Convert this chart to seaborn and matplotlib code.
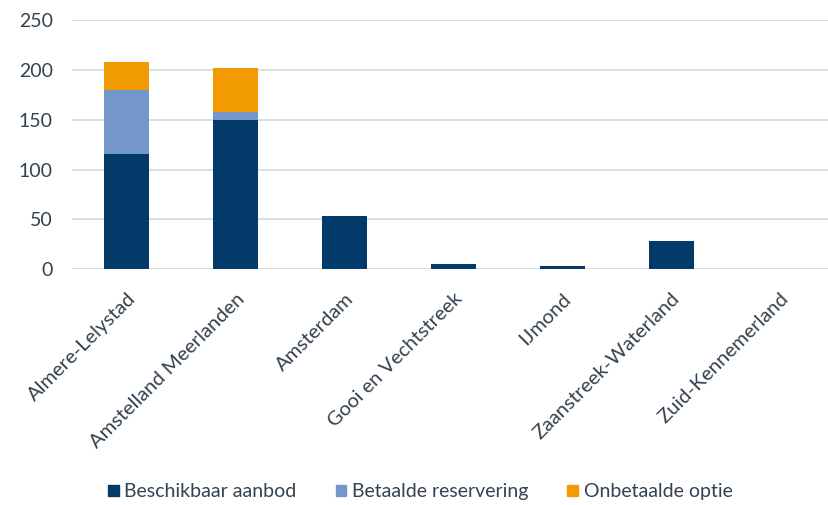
import numpy as np
import pandas as pd
import seaborn as sns
import matplotlib.pyplot as plt

regios = ["Almere-Lelystad", "Amstelland Meerlanden", "Amsterdam", "Gooi en Vechtstreek",
          "IJmond", "Zaanstreek-Waterland", "Zuid-Kennemerland"]
beschikbaar = [116, 150, 53, 5, 3, 28, 0]
betaald = [64, 8, 0, 0, 0, 0, 0]
onbetaald = [28, 44, 0, 0, 0, 0, 0]

series = ["Beschikbaar aanbod", "Betaalde reservering", "Onbetaalde optie"]
colors = ["#023B69", "#7397CB", "#F29A02"]
txt = "#34414F"

sns.set_style("white")
plt.rcParams["font.family"] = ["Lato", "DejaVu Sans"]

df = pd.DataFrame({"regio": regios, "b1": beschikbaar, "b2": betaald, "b3": onbetaald})
df["c1"] = df["b1"]
df["c2"] = df["b1"] + df["b2"]
df["c3"] = df["c2"] + df["b3"]

fig = plt.figure(figsize=(8.29, 5.05), dpi=100)
ax = fig.add_axes([0.087, 0.4667, 0.92, 0.4937])

# stacked: draw cumulative totals from top to bottom
for col, c in zip(["c3", "c2", "c1"], colors[::-1]):
    sns.barplot(data=df, x="regio", y=col, color=c, width=0.41, saturation=1,
                linewidth=0, ax=ax, zorder=3)

ax.set_ylim(0, 250)
ax.set_yticks([0, 50, 100, 150, 200, 250])
ax.yaxis.grid(True, color="#C9DDEA", linewidth=1.2, zorder=0)
ax.set_axisbelow(True)
for s in ax.spines.values():
    s.set_visible(False)
ax.set_xlabel("")
ax.set_ylabel("")
ax.tick_params(axis="both", length=0, labelsize=14, colors=txt)
ax.tick_params(axis="y", pad=14)
ax.tick_params(axis="x", pad=15, labelsize=14.5)
plt.setp(ax.get_xticklabels(), rotation=45, ha="right", va="top", rotation_mode="anchor")
ax.set_xlim(-0.5, 6.5)

handles = [plt.Rectangle((0, 0), 1, 1, color=c) for c in colors]
fig.legend(handles, series, loc="center", bbox_to_anchor=(0.507, 0.026), ncol=3, frameon=False,
           fontsize=14, handlelength=0.55, handleheight=0.55, handletextpad=0.3,
           columnspacing=2.0, labelcolor=txt)

fig.savefig("out.png", dpi=100)
